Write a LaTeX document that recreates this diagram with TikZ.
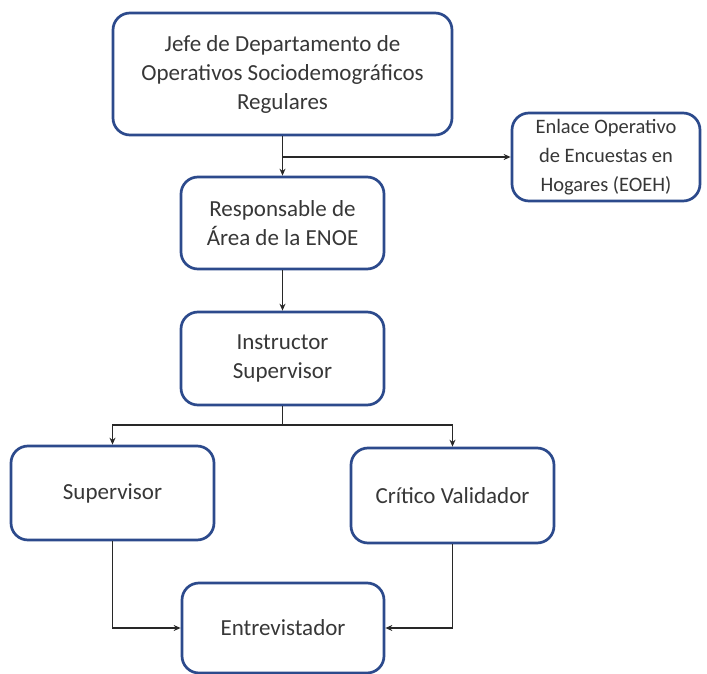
\documentclass[tikz,border=0pt]{standalone}
\usepackage{fontspec}
\setmainfont{Carlito}
\usetikzlibrary{arrows.meta}
\definecolor{boxblue}{RGB}{44,74,140}
\definecolor{txt}{RGB}{55,55,55}
\definecolor{linec}{RGB}{40,40,40}
\tikzset{
  orgbox/.style={draw=boxblue, line width=2.7pt, rounded corners=17pt, fill=white,
    align=center, text=txt, inner sep=0pt,
    font=\fontsize{23}{29}\selectfont},
  arr/.style={draw=linec, line width=1.8pt, -{Stealth[length=7pt,width=6pt]}}
}
\begin{document}
\begin{tikzpicture}[x=1pt,y=-1pt]
\useasboundingbox (0,0) rectangle (707,674);
\node[orgbox, minimum width=339pt, minimum height=122pt] (jefe) at (282.5,74)
  {Jefe de Departamento de\\Operativos Sociodemográficos\\Regulares};
\node[orgbox, minimum width=188pt, minimum height=88pt,
  font=\fontsize{20.5}{29}\selectfont] (enl) at (606,157)
  {Enlace Operativo\\de Encuestas en\\Hogares (EOEH)};
\node[orgbox, minimum width=203pt, minimum height=92pt] (resp) at (282.5,223)
  {Responsable de\\Área de la ENOE};
\node[orgbox, minimum width=203pt, minimum height=93pt] (inst) at (282.5,358.5)
  {Instructor\\Supervisor};
\node[orgbox, minimum width=203pt, minimum height=94pt] (sup) at (112.5,493)
  {Supervisor};
\node[orgbox, minimum width=203pt, minimum height=95pt] (crit) at (452.5,495.5)
  {Crítico Validador};
\node[orgbox, minimum width=202pt, minimum height=90pt] (entr) at (283,628)
  {Entrevistador};
\coordinate (br1) at (282.5,157);
\coordinate (br2) at (282.5,425);
\draw[arr] (jefe.south) -- (resp.north);
\draw[arr] (br1) -- (enl.west);
\draw[arr] (resp.south) -- (inst.north);
\draw[draw=linec, line width=1.8pt] (inst.south) -- (br2);
\draw[arr] (br2) -| (sup.north);
\draw[arr] (br2) -| (crit.north);
\draw[arr] (sup.south) |- (entr.west);
\draw[arr] (crit.south) |- (entr.east);
\end{tikzpicture}
\end{document}
